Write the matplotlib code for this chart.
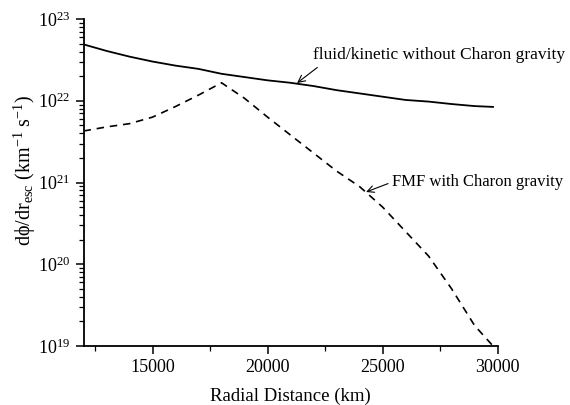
import matplotlib
matplotlib.use("Agg")
import matplotlib.pyplot as plt
import numpy as np
from matplotlib.ticker import LogLocator, FixedLocator

plt.rcParams['font.family'] = ['Liberation Serif', 'DejaVu Serif']
plt.rcParams['mathtext.fontset'] = 'custom'
plt.rcParams['mathtext.rm'] = 'Liberation Serif'
plt.rcParams['mathtext.it'] = 'Liberation Serif:italic'
plt.rcParams['mathtext.bf'] = 'Liberation Serif:bold'

# Data (radial distance in km, log10 of dphi/dr_esc)
x_solid = [12000, 13000, 14000, 15000, 16000, 17000, 18000, 19000, 20000, 21000,
           22000, 23000, 24000, 25000, 26000, 27000, 28000, 29000, 29800]
logy_solid = [22.69, 22.61, 22.54, 22.48, 22.43, 22.39, 22.33, 22.29, 22.25, 22.22,
              22.18, 22.13, 22.09, 22.05, 22.01, 21.99, 21.96, 21.935, 21.925]

x_dash = [12000, 13000, 14000, 15000, 16000, 17000, 18000, 19000, 20000, 21000,
          22000, 23000, 24000, 25000, 26000, 27000, 28000, 29000, 29800]
logy_dash = [21.63, 21.68, 21.72, 21.80, 21.93, 22.07, 22.22, 22.03, 21.80, 21.58,
             21.36, 21.14, 20.95, 20.70, 20.40, 20.10, 19.70, 19.25, 19.00]

y_solid = [10 ** v for v in logy_solid]
y_dash = [10 ** v for v in logy_dash]

major_xticks = [15000, 20000, 25000, 30000]
minor_xticks = [12500, 17500, 22500, 27500]

fig = plt.figure(figsize=(5.7, 4.05), dpi=100)
ax = fig.add_axes([0.1465, 0.1457, 0.7265, 0.8073])

ax.plot(x_solid, y_solid, color='black', lw=1.3)
ax.plot(x_dash, y_dash, color='black', lw=1.2, linestyle=(0, (4.5, 3.5)))

ax.set_yscale('log')
ax.set_xlim(12000, 30000)
ax.set_ylim(1e19, 1e23)

ax.xaxis.set_major_locator(FixedLocator(major_xticks))
ax.xaxis.set_minor_locator(FixedLocator(minor_xticks))
ax.yaxis.set_major_locator(LogLocator(base=10, numticks=10))
ax.yaxis.set_minor_locator(LogLocator(base=10, subs=np.arange(2, 10), numticks=20))

for s in ['top', 'right']:
    ax.spines[s].set_visible(False)
for s in ['left', 'bottom']:
    ax.spines[s].set_linewidth(1.3)

ax.tick_params(which='major', direction='out', length=6, width=1.1, labelsize=13)
ax.tick_params(which='minor', direction='out', length=3.5, width=0.9)

ax.set_xlabel('Radial Distance (km)', fontsize=13.5, labelpad=8)
ax.set_ylabel(r'd$\mathrm{\phi}$/dr$_{\mathrm{esc}}$ (km$^{\mathrm{-1}}$ s$^{\mathrm{-1}}$)',
              fontsize=14.5, va='center')
ax.yaxis.set_label_coords(-0.141, 0.538)

ax.annotate('fluid/kinetic without Charon gravity', xy=(21283, 10 ** 22.217),
            xytext=(21979, 10 ** 22.56), ha='left', va='center', fontsize=12.5,
            arrowprops=dict(arrowstyle='->', color='black', lw=0.8,
                            relpos=(0.04, 0.0), shrinkA=2, shrinkB=0))
ax.annotate('FMF with Charon gravity', xy=(24283, 10 ** 20.884),
            xytext=(25414, 10 ** 21.006), ha='left', va='center', fontsize=12,
            arrowprops=dict(arrowstyle='->', color='black', lw=0.8,
                            relpos=(0.0, 0.5), shrinkA=1, shrinkB=0))

fig.savefig('out.png', dpi=100)
